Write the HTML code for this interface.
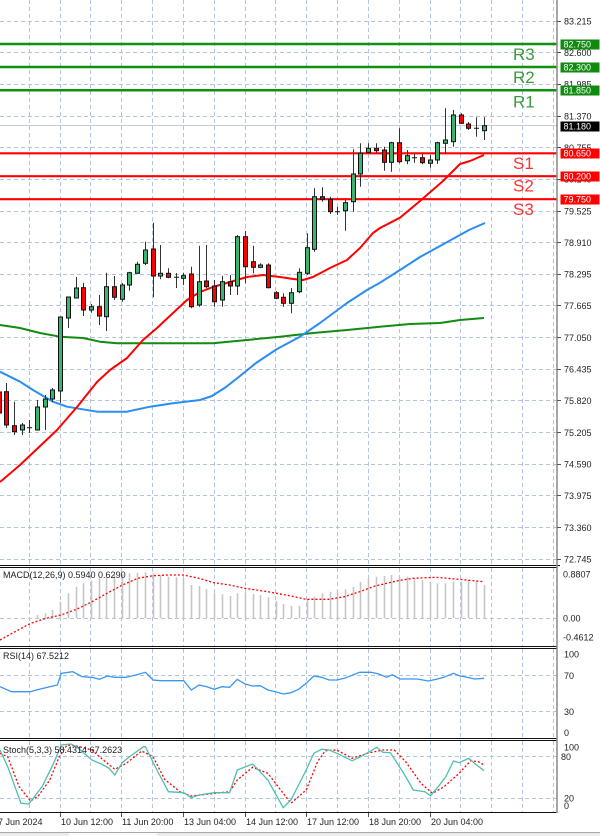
<!DOCTYPE html>
<html><head><meta charset="utf-8"><style>
html,body{margin:0;padding:0;background:#fff;}
svg{display:block;}
text{font-family:"Liberation Sans",sans-serif;font-size:9px;fill:#222;}
.g{fill:#3cb371;stroke:#111;stroke-width:1;}
.r{fill:#ff0000;stroke:#111;stroke-width:1;}
</style></head><body>
<svg width="600" height="836" viewBox="0 0 600 836" xmlns="http://www.w3.org/2000/svg">
<rect width="600" height="836" fill="#fff"/>
<!-- grid -->
<g stroke="#b4c4dc" stroke-width="1" stroke-dasharray="4,3" fill="none">
<path d="M0 21.5H557M0 52.5H557M0 84.5H557M0 116.5H557M0 147.5H557M0 179.5H557M0 211.5H557M0 242.5H557M0 274.5H557M0 305.5H557M0 337.5H557M0 369.5H557M0 400.5H557M0 432.5H557M0 464.5H557M0 495.5H557M0 527.5H557M0 559.5H557"/>
<path d="M29.5 0V565M60.5 0V565M90.5 0V565M121.5 0V565M152.5 0V565M183.5 0V565M214.5 0V565M245.5 0V565M275.5 0V565M306.5 0V565M337.5 0V565M368.5 0V565M399.5 0V565M430.5 0V565M460.5 0V565M491.5 0V565M522.5 0V565M553.5 0V565"/>
<path d="M29.5 568V646M60.5 568V646M90.5 568V646M121.5 568V646M152.5 568V646M183.5 568V646M214.5 568V646M245.5 568V646M275.5 568V646M306.5 568V646M337.5 568V646M368.5 568V646M399.5 568V646M430.5 568V646M460.5 568V646M491.5 568V646M522.5 568V646M553.5 568V646"/>
<path d="M29.5 649V738M60.5 649V738M90.5 649V738M121.5 649V738M152.5 649V738M183.5 649V738M214.5 649V738M245.5 649V738M275.5 649V738M306.5 649V738M337.5 649V738M368.5 649V738M399.5 649V738M430.5 649V738M460.5 649V738M491.5 649V738M522.5 649V738M553.5 649V738"/>
<path d="M29.5 741V812M60.5 741V812M90.5 741V812M121.5 741V812M152.5 741V812M183.5 741V812M214.5 741V812M245.5 741V812M275.5 741V812M306.5 741V812M337.5 741V812M368.5 741V812M399.5 741V812M430.5 741V812M460.5 741V812M491.5 741V812M522.5 741V812M553.5 741V812"/>
<path d="M0 618.5H557M0 675.5H557M0 711.5H557M0 756.5H557M0 798.5H557"/>
</g>
<!-- current price line -->
<line x1="0" y1="125.5" x2="557" y2="125.5" stroke="#c4ccd8" stroke-width="1"/>
<!-- pivot lines -->
<g stroke-width="2.5" stroke="#119011">
<line x1="0" y1="44" x2="557" y2="44"/>
<line x1="0" y1="67" x2="557" y2="67"/>
<line x1="0" y1="90.3" x2="557" y2="90.3"/>
</g>
<g stroke-width="2.2" stroke="#ff0000">
<line x1="0" y1="153.3" x2="557" y2="153.3"/>
<line x1="0" y1="176.2" x2="557" y2="176.2"/>
<line x1="0" y1="199.2" x2="557" y2="199.2"/>
</g>
<g style="font-size:17px">
<text x="513" y="60" style="font-size:17px;fill:#3c9c3c">R3</text>
<text x="513" y="83" style="font-size:17px;fill:#3c9c3c">R2</text>
<text x="513" y="107.5" style="font-size:17px;fill:#3c9c3c">R1</text>
<text x="513" y="169" style="font-size:17px;fill:#ff3030">S1</text>
<text x="513" y="191.5" style="font-size:17px;fill:#ff3030">S2</text>
<text x="513" y="215" style="font-size:17px;fill:#ff3030">S3</text>
</g>
<!-- moving averages -->
<g fill="none" stroke-width="2" stroke-linejoin="round">
<polyline stroke="#138a13" points="0,325 20,328 40,333 60,336.7 83,338 100,341.7 117,343.3 200,343.3 213,343.3 247,340 280,336.7 313,333 347,330 380,326.7 410,324 440,323 460,320 484,318"/>
<polyline stroke="#2a8ef0" points="0,371.7 20,381.7 33,390 53,401.7 67,406.7 97,411.7 127,411.7 150,406.7 173,403.3 200,400 212,396 226,387 240,376 256,363 277,349 300,336.7 320,323 347,303 367,290 380,282.7 400,270 420,257 440,246 469,230 485,223"/>
<polyline stroke="#ff0000" points="0,482 20,465 38,448 57,430 77,407 97,382 110,370 127,358 143,340 157,328 173,313 187,300 200,292 213,287 230,282 247,277 263,275 280,277 293,279 303,280 313,277 330,268 347,260 360,248 373,233 380,228 400,217.7 420,201 443,181 460,164 470,161 484,155"/>
</g>
<!-- candles wicks -->
<g stroke="#333" stroke-width="1">
<path d="M-0.5 385V420M6.5 383V428M14.5 401.7V435M22.5 423V435M29.5 420V433M37.5 400V430M45.5 395V430M52.5 388V402M60.5 316.7V402.7M68.5 296.7V328M76.5 277V298M83.5 282.7V316M91.5 304V312.7M99.5 295V325M106.5 272.7V331M114.5 276V300M122.5 283V301.7M129.5 271.7V290.7M137.5 261.7V274M145.5 241.7V265M153.5 222.7V297.3M160.5 245V279.3M168.5 268.3V278.3M176.5 273V288M183.5 272.7V285M191.5 266.7V308.3M199.5 245.7V306.7M206.5 245V288.3M214.5 280V306.7M222.5 275.7V306.7M230.5 275V295M237.5 235V295M245.5 231V283.3M253.5 245.7V273.3M260.5 263.3V268.3M268.5 263.3V288.3M276.5 291V299.3M283.5 293.3V306.7M291.5 288V313.3M299.5 268.3V293.3M307.5 233.3V275M314.5 188.3V251.7M322.5 187.3V201.7M330.5 196.7V214M337.5 206.7V215M345.5 200V230.7M353.5 149.3V211.7M360.5 143.3V186.7M368.5 143.3V153.3M376.5 143.3V152.7M384.5 146.7V170.7M391.5 141.7V171.7M399.5 128.3V163.3M407.5 150V164.3M414.5 154.3V162.7M422.5 154.3V164.3M430.5 155V167.7M437.5 141.7V164M445.5 108.3V154M453.5 110V146.7M461.5 113.3V124M468.5 122V130M476.5 117.3V136.7M484.5 117.3V140"/>
<path d="M27 427.7H32M174 277.3H179M335 211.7H340M412 157.7H417M474 128.3H479" stroke="#111"/>
</g>
<!-- candle bodies -->
<rect class="r" x="-2.5" y="392" width="4" height="21"/>
<rect class="r" x="4.5" y="391.7" width="4" height="33.3"/>
<rect class="r" x="12.5" y="425.7" width="4" height="6"/>
<rect class="g" x="20.5" y="425" width="4" height="5"/>
<rect class="g" x="35.5" y="407" width="4" height="23"/>
<rect class="g" x="43.5" y="399" width="4" height="8"/>
<rect class="g" x="50.5" y="390" width="4" height="9"/>
<rect class="g" x="58.5" y="317" width="4" height="74"/>
<rect class="g" x="66.5" y="297" width="4" height="21"/>
<rect class="g" x="74.5" y="288" width="4" height="10"/>
<rect class="r" x="81.5" y="287.7" width="4" height="22.3"/>
<rect class="g" x="89.5" y="306.7" width="4" height="3.3"/>
<rect class="r" x="97.5" y="306.7" width="4" height="9.3"/>
<rect class="g" x="104.5" y="286.7" width="4" height="30"/>
<rect class="r" x="112.5" y="286.7" width="4" height="10.6"/>
<rect class="g" x="120.5" y="285" width="4" height="14.3"/>
<rect class="g" x="127.5" y="272.7" width="4" height="12.3"/>
<rect class="g" x="135.5" y="264.3" width="4" height="9"/>
<rect class="g" x="143.5" y="250" width="4" height="13.3"/>
<rect class="r" x="151.5" y="249" width="4" height="27"/>
<rect class="g" x="158.5" y="273.3" width="4" height="2.7"/>
<rect class="r" x="166.5" y="273.3" width="4" height="4"/>
<rect class="g" x="181.5" y="275.7" width="4" height="2.6"/>
<rect class="r" x="189.5" y="274" width="4" height="32.7"/>
<rect class="g" x="197.5" y="281.7" width="4" height="23.3"/>
<rect class="r" x="204.5" y="281" width="4" height="5.7"/>
<rect class="r" x="212.5" y="286" width="4" height="15.7"/>
<rect class="g" x="220.5" y="281.7" width="4" height="18.3"/>
<rect class="r" x="228.5" y="281.7" width="4" height="4.3"/>
<rect class="g" x="235.5" y="236.7" width="4" height="49.3"/>
<rect class="r" x="243.5" y="236.7" width="4" height="30"/>
<rect class="r" x="251.5" y="261.7" width="4" height="5.6"/>
<rect class="g" x="258.5" y="265" width="4" height="2.3"/>
<rect class="r" x="266.5" y="265" width="4" height="22.7"/>
<rect class="r" x="274.5" y="292.7" width="4" height="5.6"/>
<rect class="r" x="281.5" y="297.3" width="4" height="6"/>
<rect class="g" x="289.5" y="292.7" width="4" height="10.6"/>
<rect class="g" x="297.5" y="272.3" width="4" height="19.4"/>
<rect class="g" x="305.5" y="247.7" width="4" height="25.6"/>
<rect class="g" x="312.5" y="196.7" width="4" height="52.6"/>
<rect class="r" x="320.5" y="196.7" width="4" height="2.6"/>
<rect class="r" x="328.5" y="199.3" width="4" height="12.4"/>
<rect class="g" x="343.5" y="202.7" width="4" height="8"/>
<rect class="g" x="351.5" y="174" width="4" height="27.7"/>
<rect class="g" x="358.5" y="153.3" width="4" height="20.7"/>
<rect class="g" x="366.5" y="148.3" width="4" height="4"/>
<rect class="r" x="374.5" y="148.3" width="4" height="2.4"/>
<rect class="r" x="382.5" y="150" width="4" height="12.3"/>
<rect class="g" x="389.5" y="142.7" width="4" height="19.6"/>
<rect class="r" x="397.5" y="142.7" width="4" height="19"/>
<rect class="g" x="405.5" y="155.7" width="4" height="5"/>
<rect class="r" x="420.5" y="157.7" width="4" height="5"/>
<rect class="g" x="428.5" y="160" width="4" height="3.3"/>
<rect class="g" x="435.5" y="142.7" width="4" height="17.3"/>
<rect class="g" x="443.5" y="140" width="4" height="3.3"/>
<rect class="g" x="451.5" y="115" width="4" height="26.7"/>
<rect class="r" x="459.5" y="115" width="4" height="8.3"/>
<rect class="r" x="466.5" y="124" width="4" height="4.3"/>
<rect class="g" x="482.5" y="125.7" width="4" height="5"/>

<!-- MACD histogram -->
<g stroke="#c6c6c6" stroke-width="1.6">
<path d="M37.5 618V615M45.5 618V613.3M52.5 618V610M60.5 618V601.7M68.5 618V593.3M76.5 618V586.7M83.5 618V583.3M91.5 618V580.7M99.5 618V578.3M106.5 618V576.7M114.5 618V575M122.5 618V574M129.5 618V573.3M137.5 618V572.7M145.5 618V572.3M153.5 618V573.3M160.5 618V575M168.5 618V576.7M176.5 618V577.3M183.5 618V578.3M191.5 618V585M199.5 618V586M206.5 618V589.3M214.5 618V593.3M222.5 618V594.3M230.5 618V596M237.5 618V593.3M245.5 618V592.7M253.5 618V594M260.5 618V595M268.5 618V597.3M276.5 618V600.7M283.5 618V604M291.5 618V606M299.5 618V606M307.5 618V599.3M314.5 618V596.7M322.5 618V593.3M330.5 618V591.7M337.5 618V590.7M345.5 618V589.3M353.5 618V586.7M360.5 618V581.7M368.5 618V578.3M376.5 618V576.7M384.5 618V576M391.5 618V575M399.5 618V576.7M407.5 618V576.7M414.5 618V578.3M422.5 618V580M430.5 618V581.7M437.5 618V583.3M445.5 618V583.3M453.5 618V581.7M461.5 618V581.7M468.5 618V580M476.5 618V580.7M484.5 618V585"/>
</g>
<polyline fill="none" stroke="#ff0000" stroke-width="1.3" stroke-dasharray="2,2" points="0,640 15,631.7 30.6,623.3 46,618.3 61,615 76.5,609.3 92,601.7 107,593.3 122.5,585 137.8,578.3 153,575.7 168.4,575 183.7,575 199,578.3 214,582.7 229.6,585 245,588.3 268,591.7 291,596 306,599.3 329,599.3 344.4,596.7 359.7,591.7 375,586 398,580.7 413,578.3 436,577.3 459,579.3 484,581.7"/>
<!-- RSI -->
<polyline fill="none" stroke="#3a96f0" stroke-width="1.3" points="0,686.7 11.5,691.7 30.6,691.7 36.4,690 49.8,686.7 57.4,685 61.2,673.3 72.7,671.7 82.3,676.7 91.8,677.3 99.5,679.3 107.2,676 114.8,677.3 126.3,677.3 135.9,675 145.4,672.3 153.1,680 160.7,680.7 183.7,680.7 191.4,690 199,685 206.7,686.7 214.3,689.3 222,686.7 229.6,687.3 237.3,679.3 244.9,684 252.6,686 260.2,685.7 267.9,690 275.5,691.7 283.2,694 290.9,692.7 298.5,689.3 306.2,683.3 313.8,676 321.5,677.3 329.1,680 336.8,680 344.4,678.3 359.7,672.3 371.2,672.3 378.9,674 386.5,677.3 392.3,674.7 399.9,679 417.1,679 428.6,681 436.3,679.3 443.9,677.3 453.5,673.3 459.2,675.7 466.9,677.3 474.6,679 484.1,678.3"/>
<!-- Stoch -->
<polyline fill="none" stroke="#ff0000" stroke-width="1.3" stroke-dasharray="2,2" points="0,753.3 7.7,756.7 19.1,786.7 30.6,801 38.3,796 49.8,780 59.3,756.7 67,745 76.5,746 91.8,750 103.3,760 114.8,769.3 126.3,763.3 141.6,751 153.1,756.7 164.6,779.3 179.9,791.7 191.4,796 206.7,794.3 229.6,791.7 237.3,780 252.6,767.3 267.9,773.3 283.2,793.3 290.9,803.3 306.2,790 317.6,761.7 325.3,750.7 336.8,750 352.1,758.3 367.4,753.3 382.7,750 394.2,750 405.7,761.7 421,783.3 432.5,793.3 444,786.7 459.2,773.3 470.7,760.7 478.4,761.7 484.1,765"/>
<polyline fill="none" stroke="#4cc0b0" stroke-width="1.3" points="0,750 7.7,766.7 21,803.3 28.7,804 34.4,796.7 42.1,786.7 53.6,763.3 61.2,745 70.8,744 76.5,746.7 91.8,760 101.4,764 109.1,768.3 114.8,775 122.5,762.3 132,755 143.5,746.7 145.4,746.7 156.9,770 168.4,791.7 183.7,792.7 191.4,797.7 199,795 214.3,792.7 229.6,792.7 237.3,770 252.6,764 267.9,780 283.2,807.7 290.9,800 306.2,770 313.8,753.3 321.5,749.3 329.1,750 336.8,753.3 352.1,760.7 359.7,757.3 377,747.3 382.7,752.3 390.4,752.7 403.7,773.3 413.3,790 424.8,791.7 430.5,795.7 438.2,786.7 445.8,776.7 453.5,761 459.2,762.7 468.8,758.3 476.5,765 484.1,770.7"/>

<!-- frames -->
<g stroke="#111" stroke-width="1" fill="none">
<path d="M0 565.5H560M0 567.5H557M0 646.5H557M0 648.5H557M0 738.5H557M0 740.5H557M0 812.5H557"/>
</g>
<line x1="557" y1="0" x2="557" y2="813" stroke="#8a8a8a" stroke-width="1.5"/>
<g stroke="#555" stroke-width="1">
<path d="M557 21.5H561M557 52.5H561M557 84.5H561M557 116.5H561M557 147.5H561M557 179.5H561M557 211.5H561M557 242.5H561M557 274.5H561M557 305.5H561M557 337.5H561M557 369.5H561M557 400.5H561M557 432.5H561M557 464.5H561M557 495.5H561M557 527.5H561M557 559.5H561"/>
<path d="M60.5 813V817M121.5 813V817M183.5 813V817M245.5 813V817M306.5 813V817M368.5 813V817M430.5 813V817"/>
</g>
<!-- axis labels -->
<g>
<text x="564" y="24.5">83.215</text>
<text x="564" y="56">82.600</text>
<text x="564" y="87.5">81.985</text>
<text x="564" y="119.5">81.370</text>
<text x="564" y="151">80.755</text>
<text x="564" y="182.5">80.140</text>
<text x="564" y="214.5">79.525</text>
<text x="564" y="246">78.910</text>
<text x="564" y="277.5">78.295</text>
<text x="564" y="309">77.665</text>
<text x="564" y="341">77.050</text>
<text x="564" y="372.5">76.435</text>
<text x="564" y="404">75.820</text>
<text x="564" y="436">75.205</text>
<text x="564" y="467.5">74.590</text>
<text x="564" y="499">73.975</text>
<text x="564" y="531">73.360</text>
<text x="564" y="562.5">72.745</text>
</g>
<!-- price boxes -->
<rect x="560.5" y="39.5" width="39" height="10" fill="#118a11"/>
<text x="563.5" y="47.7" style="fill:#fff">82.750</text>
<rect x="560.5" y="62.5" width="39" height="10" fill="#118a11"/>
<text x="563.5" y="70.7" style="fill:#fff">82.300</text>
<rect x="560.5" y="85.5" width="39" height="10" fill="#118a11"/>
<text x="563.5" y="93.7" style="fill:#fff">81.850</text>
<rect x="560.5" y="121.5" width="39" height="10" fill="#000"/>
<text x="563.5" y="129.7" style="fill:#fff">81.180</text>
<rect x="560.5" y="148.5" width="39" height="10" fill="#ff0000"/>
<text x="563.5" y="156.7" style="fill:#fff">80.650</text>
<rect x="560.5" y="171.5" width="39" height="10" fill="#ff0000"/>
<text x="563.5" y="179.7" style="fill:#fff">80.200</text>
<rect x="560.5" y="194.5" width="39" height="10" fill="#ff0000"/>
<text x="563.5" y="202.7" style="fill:#fff">79.750</text>
<!-- indicator axis labels -->
<text x="563" y="577.5">0.8807</text>
<text x="563" y="621.5">0.00</text>
<text x="563" y="640.5">-0.4612</text>
<text x="564" y="657.5">100</text>
<text x="564" y="679">70</text>
<text x="564" y="715">30</text>
<text x="564" y="736">0</text>
<text x="564" y="750.5">100</text>
<text x="561" y="760">80</text>
<text x="564" y="801.5">20</text>
<text x="564" y="809">0</text>
<!-- indicator titles -->
<text x="3" y="578">MACD(12,26,9) 0.5940 0.6290</text>
<text x="3" y="659">RSI(14) 67.5212</text>
<text x="3" y="753">Stoch(5,3,3) 58.4314 67.2623</text>
<!-- date labels -->
<text x="-2" y="825">7 Jun 2024</text>
<text x="61" y="825">10 Jun 12:00</text>
<text x="122" y="825">11 Jun 20:00</text>
<text x="184" y="825">13 Jun 04:00</text>
<text x="246" y="825">14 Jun 12:00</text>
<text x="307" y="825">17 Jun 12:00</text>
<text x="369" y="825">18 Jun 20:00</text>
<text x="431" y="825">20 Jun 04:00</text>
<!-- bottom strip -->
<rect x="0" y="832.5" width="600" height="4" fill="#ececec"/>
<line x1="0" y1="832.5" x2="600" y2="832.5" stroke="#a8a8a8" stroke-width="1"/>
<rect x="69" y="833" width="88" height="3" fill="#fafafa"/>
</svg>
</body></html>
